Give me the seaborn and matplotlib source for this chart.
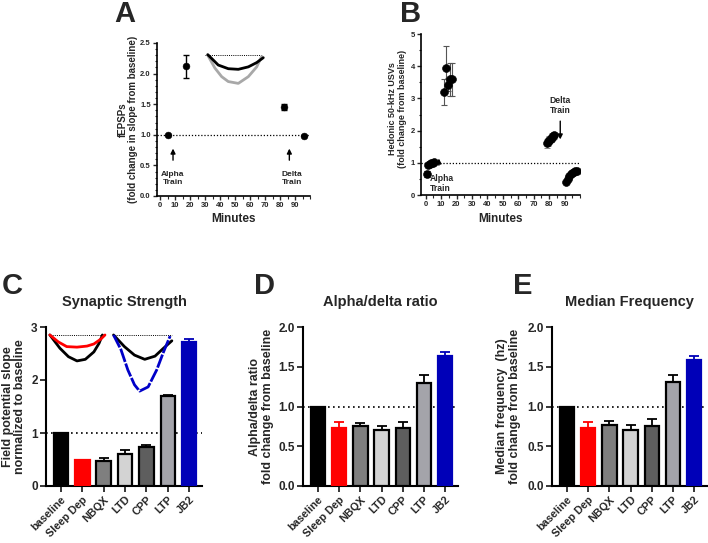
import matplotlib
matplotlib.use("Agg")
import matplotlib.pyplot as plt
from matplotlib.ticker import MultipleLocator
import pandas as pd
import seaborn as sns

sns.set_style("ticks")
plt.rcParams["font.family"] = ["Liberation Sans", "DejaVu Sans"]
plt.rcParams["font.weight"] = "bold"
plt.rcParams["axes.labelweight"] = "bold"
plt.rcParams["axes.linewidth"] = 1.3
plt.rcParams["axes.edgecolor"] = "black"

W, H = 708, 543

# --- Panel A: fEPSP slope over time ---
a_minutes = [5.3, 17.2, 82.6, 96.0]
a_fepsp = [1.0, 2.12, 1.46, 0.985]
a_sem = [0.0, 0.19, 0.05, 0.0]
# inset traces (black / grey waveform)
a_black_x = [31.7, 38.7, 45.4, 52.1, 58.8, 64.4, 68.8]
a_black_y = [2.31, 2.14, 2.08, 2.07, 2.11, 2.18, 2.26]
a_grey_x = [31.7, 36.5, 41.0, 45.4, 52.1, 58.8, 64.4, 67.7]
a_grey_y = [2.30, 2.09, 1.95, 1.87, 1.84, 1.95, 2.11, 2.28]

# --- Panel B: hedonic 50-kHz USVs ---
b_pre_min = [0.8, 1.8, 2.7, 3.6, 4.5, 5.4]
b_pre = [0.65, 0.93, 0.96, 0.98, 1.0, 1.01]
b_pre_sem = [0.08, 0.03, 0.02, 0.02, 0.02, 0.02]
b_alpha_min = [12.1, 13.0, 14.3, 15.8, 17.3]
b_alpha = [3.19, 3.93, 3.42, 3.59, 3.59]
b_alpha_sem = [0.40, 0.70, 0.20, 0.50, 0.50]
b_late_min = [78.5, 79.3, 80.1, 80.9, 81.7, 82.5, 83.3]
b_late = [1.60, 1.65, 1.70, 1.75, 1.80, 1.82, 1.85]
b_late_sem = [0.15, 0.12, 0.12, 0.10, 0.12, 0.10, 0.10]
b_delta_min = [91, 92, 93, 94, 95, 96, 97, 98]
b_delta = [0.40, 0.50, 0.58, 0.64, 0.68, 0.71, 0.73, 0.75]

# --- Panels C-E: group bars ---
groups = ["baseline", "Sleep Dep", "NBQX", "LTD", "CPP", "LTP", "JB2"]
bar_fill = ["#000000", "#ff0000", "#7f7f7f", "#d3d3d3", "#5e5e5e", "#a4a4aa", "#0000b8"]
bar_edge = ["#000000", "#ff0000", "#000000", "#000000", "#000000", "#000000", "#0000b8"]
err_col = ["#000000", "#ff0000", "#000000", "#000000", "#000000", "#000000", "#0000b8"]

c_slope = [1.0, 0.49, 0.48, 0.60, 0.73, 1.69, 2.71]
c_sem = [0.0, 0.01, 0.04, 0.07, 0.04, 0.03, 0.06]
d_ratio = [1.0, 0.73, 0.755, 0.70, 0.725, 1.29, 1.635]
d_sem = [0.0, 0.07, 0.035, 0.05, 0.085, 0.11, 0.045]
e_freq = [1.0, 0.73, 0.77, 0.71, 0.76, 1.31, 1.585]
e_sem = [0.0, 0.08, 0.05, 0.06, 0.08, 0.08, 0.05]

# inset traces in panel C
c_red_x = [-0.52, -0.13, 0.27, 0.75, 1.22, 1.54, 1.86, 2.06]
c_red_y = [2.85, 2.72, 2.63, 2.62, 2.64, 2.68, 2.77, 2.85]
c_blk1_x = [-0.52, -0.05, 0.35, 0.75, 1.14, 1.54, 1.78, 1.94]
c_blk1_y = [2.85, 2.60, 2.44, 2.36, 2.39, 2.53, 2.69, 2.85]
c_blk2_x = [2.46, 2.97, 3.44, 3.92, 4.40, 4.80, 5.19]
c_blk2_y = [2.85, 2.63, 2.47, 2.39, 2.45, 2.60, 2.74]
c_blue_x = [2.46, 2.81, 3.13, 3.44, 3.68, 4.08, 4.48, 4.80, 5.11]
c_blue_y = [2.85, 2.57, 2.19, 1.91, 1.79, 1.87, 2.19, 2.53, 2.83]


def px_axes(fig, left, top, right, bottom):
    return fig.add_axes([left / W, 1 - bottom / H, (right - left) / W, (bottom - top) / H])


def time_axes_style(ax):
    sns.despine(ax=ax)
    for s in ["left", "bottom"]:
        ax.spines[s].set_linewidth(1.2)
    ax.tick_params(axis="both", which="major", labelsize=5.5, length=3, width=1, pad=1.5)
    ax.tick_params(axis="both", which="minor", length=1.8, width=0.8)


fig = plt.figure(figsize=(W / 100, H / 100), dpi=100)

# ---------------- Panel A ----------------
axA = px_axes(fig, 157, 43, 310, 196)
axA.axhline(1.0, color="k", ls=(0, (1, 1.5)), lw=0.9, zorder=1)
axA.errorbar(a_minutes, a_fepsp, yerr=a_sem, fmt="none", ecolor="k", elinewidth=1, capsize=2.5, capthick=1)
sns.scatterplot(x=a_minutes, y=a_fepsp, color="k", s=24, edgecolor="k", ax=axA, zorder=3)
axA.plot([30, 68], [2.3, 2.3], color="k", ls=(0, (1, 1.2)), lw=0.7)
axA.plot(a_grey_x, a_grey_y, color="#a8a8a8", lw=2)
axA.plot(a_black_x, a_black_y, color="k", lw=2)
axA.annotate("", xy=(8.5, 0.82), xytext=(8.5, 0.54),
             arrowprops=dict(arrowstyle="-|>", color="k", lw=1, mutation_scale=7))
axA.annotate("", xy=(86.2, 0.82), xytext=(86.2, 0.54),
             arrowprops=dict(arrowstyle="-|>", color="k", lw=1, mutation_scale=7))
axA.text(8.5, 0.29, "Alpha\nTrain", ha="center", va="center", fontsize=6, linespacing=1.1)
axA.text(87.8, 0.29, "Delta\nTrain", ha="center", va="center", fontsize=6, linespacing=1.1)
axA.set_xlim(-2.2, 100)
axA.set_ylim(0, 2.5)
axA.xaxis.set_minor_locator(MultipleLocator(5))
axA.yaxis.set_major_locator(MultipleLocator(0.5))
axA.yaxis.set_minor_locator(MultipleLocator(0.1))
axA.set_xticks(range(0, 100, 10))
axA.yaxis.set_major_formatter(matplotlib.ticker.FormatStrFormatter("%.1f"))
time_axes_style(axA)
axA.set_ylabel("fEPSPs\n(fold change in slope from baseline)", fontsize=7, linespacing=1.1)
axA.yaxis.set_label_coords(-0.19, 0.5)
axA.yaxis.label.set_va("center")
axA.set_xlabel("Minutes", fontsize=8.5)
axA.xaxis.set_label_coords(0.5, -0.15)
axA.xaxis.label.set_va("center")

# ---------------- Panel B ----------------
axB = px_axes(fig, 421, 34, 580, 195)
axB.axhline(1.0, color="k", ls=(0, (1, 1.5)), lw=0.9, zorder=1)
axB.errorbar(b_pre_min, b_pre, yerr=b_pre_sem, fmt="none", ecolor="k", elinewidth=0.8, capsize=2, capthick=0.8)
axB.errorbar(b_alpha_min, b_alpha, yerr=b_alpha_sem, fmt="none", ecolor="#555555", elinewidth=0.8, capsize=2.5, capthick=0.8)
axB.errorbar(b_late_min, b_late, yerr=b_late_sem, fmt="none", ecolor="#888888", elinewidth=0.7, capsize=2, capthick=0.7)
for xs, ys in [(b_pre_min, b_pre), (b_alpha_min, b_alpha), (b_late_min, b_late), (b_delta_min, b_delta)]:
    sns.scatterplot(x=xs, y=ys, color="k", s=32, edgecolor="k", ax=axB, zorder=3)
axB.annotate("", xy=(8.6, 1.22), xytext=(8.6, 0.84),
             arrowprops=dict(arrowstyle="-|>", color="k", lw=1, mutation_scale=7))
axB.annotate("", xy=(87.2, 1.64), xytext=(87.2, 2.38),
             arrowprops=dict(arrowstyle="-|>", color="k", lw=1, mutation_scale=7))
axB.text(2.6, 0.35, "Alpha\nTrain", ha="left", va="center", fontsize=6.2, linespacing=1.1)
axB.text(87.2, 2.77, "Delta\nTrain", ha="center", va="center", fontsize=6.2, linespacing=1.1)
axB.set_xlim(-3, 100)
axB.set_ylim(0, 5)
axB.set_xticks(range(0, 100, 10))
axB.xaxis.set_minor_locator(MultipleLocator(5))
axB.yaxis.set_major_locator(MultipleLocator(1))
axB.yaxis.set_minor_locator(MultipleLocator(0.5))
time_axes_style(axB)
axB.set_ylabel("Hedonic 50-kHz USVs\n(fold change from baseline)", fontsize=6.5, linespacing=1.1)
axB.yaxis.set_label_coords(-0.148, 0.534)
axB.yaxis.label.set_va("center")
axB.set_xlabel("Minutes", fontsize=8.5)
axB.xaxis.set_label_coords(0.5, -0.149)
axB.xaxis.label.set_va("center")


# ---------------- Panels C-E ----------------
def bar_panel(ax, values, sem, ymax, ystep, fmt, ylabel, ylab_x, title):
    df = pd.DataFrame({"group": groups, "value": values})
    sns.barplot(data=df, x="group", y="value", hue="group", palette=bar_fill, legend=False,
                width=0.68, saturation=1, ax=ax, zorder=3)
    for patch, edge in zip(ax.patches, bar_edge):
        patch.set_edgecolor(edge)
        patch.set_linewidth(1.6)
    for i, (v, s, c) in enumerate(zip(values, sem, err_col)):
        if s > 0:
            ax.errorbar(i, v, yerr=[[0], [s]], fmt="none", ecolor=c, elinewidth=1.3,
                        capsize=3.5, capthick=1.3, zorder=2)
    ax.axhline(1.0, color="k", ls=(0, (1, 2)), lw=1.2, zorder=1)
    ax.set_xlim(-0.7, 6.6)
    ax.set_ylim(0, ymax)
    ax.yaxis.set_major_locator(MultipleLocator(ystep))
    ax.yaxis.set_major_formatter(matplotlib.ticker.FormatStrFormatter(fmt))
    sns.despine(ax=ax)
    for s in ["left", "bottom"]:
        ax.spines[s].set_linewidth(1.5)
    ax.tick_params(axis="y", labelsize=8.5, length=4, width=1.3, pad=2)
    ax.tick_params(axis="x", labelsize=7.8, length=4, width=1.3, pad=2)
    for lbl in ax.get_xticklabels():
        lbl.set_rotation(45)
        lbl.set_ha("right")
        lbl.set_rotation_mode("anchor")
    ax.set_xlabel("")
    ax.set_ylabel(ylabel, fontsize=9, linespacing=1.1)
    ax.yaxis.set_label_coords(ylab_x, 0.5)
    ax.yaxis.label.set_va("center")
    ax.text(0.5, 1.157, title, transform=ax.transAxes, ha="center", va="center", fontsize=10.5)


axC = px_axes(fig, 46, 327, 202, 486)
bar_panel(axC, c_slope, c_sem, 3, 1, "%d", "Field potential slope\nnormalized to baseline", -0.205,
          "Synaptic Strength")
axC.plot([-0.52, 2.06], [2.85, 2.85], color="k", ls=(0, (1, 1.2)), lw=0.7, zorder=4)
axC.plot([2.46, 5.19], [2.85, 2.85], color="k", ls=(0, (1, 1.2)), lw=0.7, zorder=4)
axC.plot(c_blk1_x, c_blk1_y, color="k", lw=2, zorder=5)
axC.plot(c_red_x, c_red_y, color="#ff0000", lw=2, zorder=5)
axC.plot(c_blk2_x, c_blk2_y, color="k", lw=2, zorder=5)
axC.plot(c_blue_x, c_blue_y, color="#0000c8", lw=2, ls=(0, (5, 0.6)), zorder=5)

axD = px_axes(fig, 303, 327, 458, 486)
bar_panel(axD, d_ratio, d_sem, 2, 0.5, "%.1f", "Alpha/delta ratio\nfold change from baseline", -0.265,
          "Alpha/delta ratio")

axE = px_axes(fig, 552, 327, 707, 486)
bar_panel(axE, e_freq, e_sem, 2, 0.5, "%.1f", "Median frequency  (hz)\nfold change from baseline", -0.28,
          "Median Frequency")

# panel letters
for letter, x, y in [("A", 125, 14), ("B", 411, 14), ("C", 12, 286), ("D", 264, 286), ("E", 523, 286)]:
    fig.text(x / W, 1 - y / H, letter, ha="center", va="center", fontsize=21, fontweight="bold")

fig.savefig("out.png", dpi=100)
